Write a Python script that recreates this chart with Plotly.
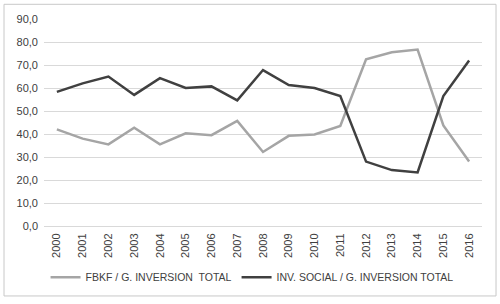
import plotly.graph_objects as go

years = [str(y) for y in range(2000, 2017)]
fbkf = [42.0, 38.0, 35.5, 42.7, 35.5, 40.3, 39.5, 45.7, 32.2, 39.2, 39.8, 43.5, 72.5, 75.5, 76.7, 43.7, 28.0]
inv_social = [58.3, 62.0, 65.0, 57.0, 64.3, 60.0, 60.7, 54.6, 67.8, 61.3, 60.0, 56.5, 28.0, 24.3, 23.3, 56.5, 72.0]
names = ["FBKF / G. INVERSION  TOTAL", "INV. SOCIAL / G. INVERSION TOTAL"]

font = "Liberation Sans Narrow, Liberation Sans, Arial"

fig = go.Figure()
fig.add_trace(go.Scatter(x=years, y=fbkf, mode="lines", name=names[0],
                         line=dict(color="#A5A5A5", width=2.5)))
fig.add_trace(go.Scatter(x=years, y=inv_social, mode="lines", name=names[1],
                         line=dict(color="#404040", width=2.5)))

fig.update_layout(
    width=500, height=304,
    margin=dict(l=44, r=18, t=19, b=75),
    paper_bgcolor="white", plot_bgcolor="white",
    separators=",.",
    font=dict(family=font, size=11, color="#404040"),
    showlegend=True,
    legend=dict(orientation="h", x=0.475, xanchor="center", y=-0.248, yanchor="middle",
                font=dict(size=10.5, color="#404040"), itemwidth=30, tracegroupgap=0),
    xaxis=dict(type="category", range=[-0.5, 16.5], tickangle=-90, showgrid=False,
               showline=True, linecolor="#D9D9D9", ticks="", tickfont=dict(size=11),
               ticklabelstandoff=2),
    yaxis=dict(range=[0, 90], dtick=10, tickformat=".1f", showgrid=True, gridcolor="#D9D9D9",
               zeroline=False, showline=False, ticks="", tickfont=dict(size=11),
               ticklabelstandoff=5),
    shapes=[dict(type="rect", xref="paper", yref="paper",
                 x0=-0.0913, x1=1.032, y0=-0.338, y1=1.071,
                 line=dict(color="#C8C8C8", width=1), fillcolor="rgba(0,0,0,0)")],
)

fig.write_html("out.html", config={"displayModeBar": False},
               post_script="document.body.style.margin='0';")
